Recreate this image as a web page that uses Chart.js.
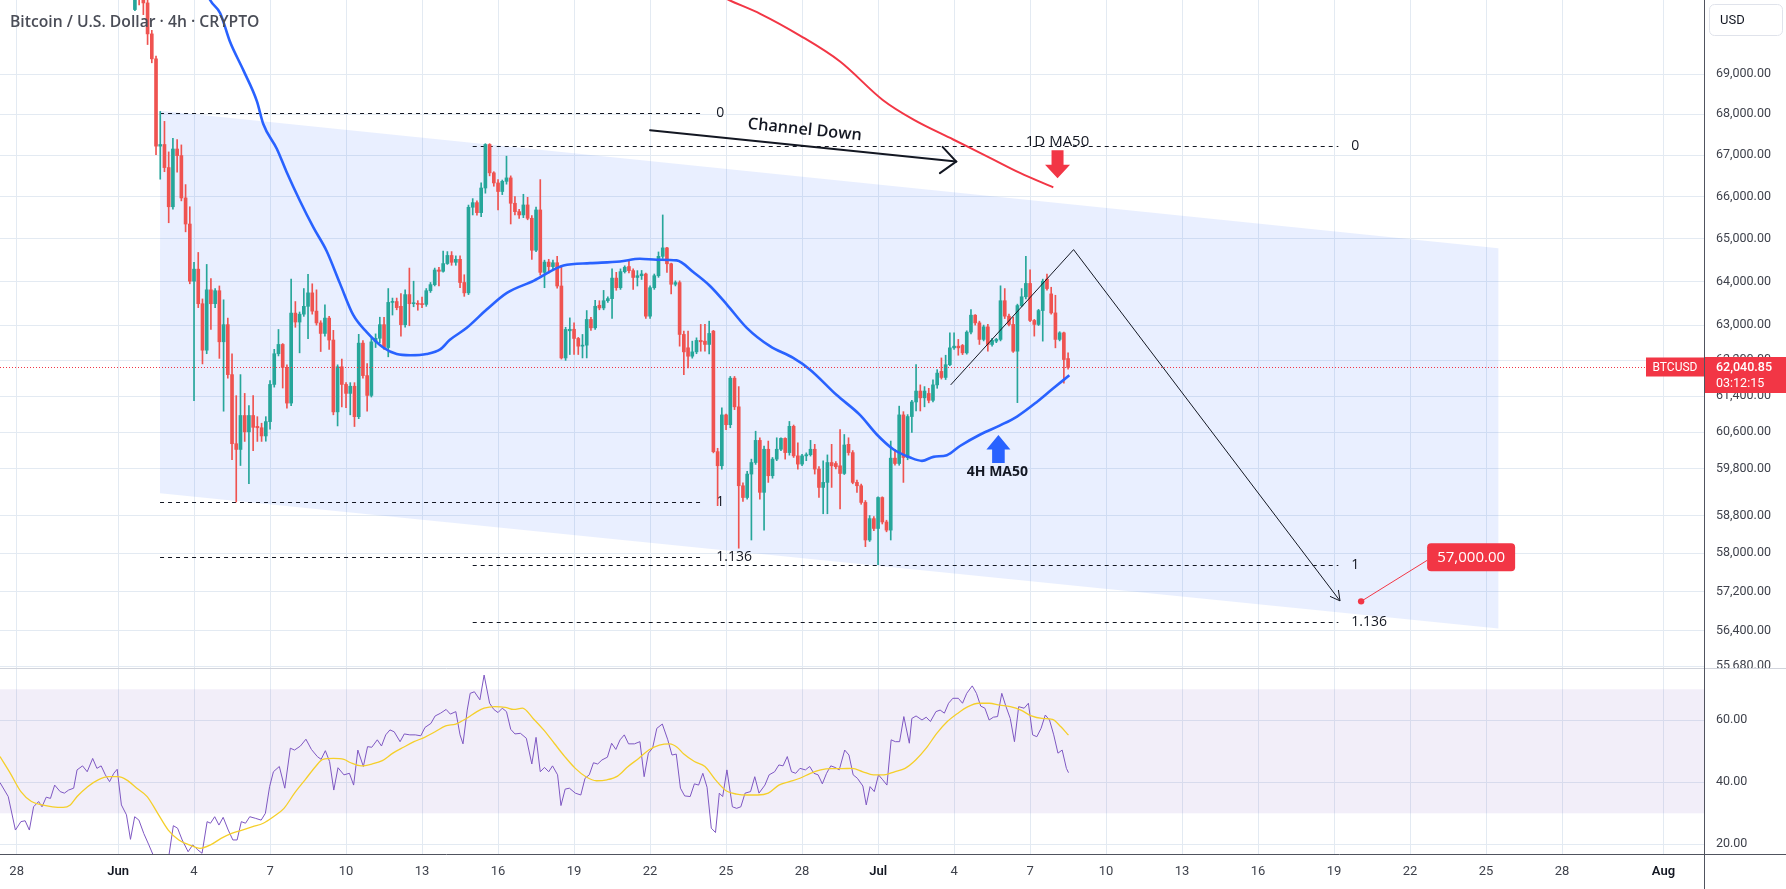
<!DOCTYPE html>
<html>
<head>
<meta charset="utf-8">
<title>Bitcoin / U.S. Dollar · 4h</title>
<script src="https://cdn.jsdelivr.net/npm/chart.js@4.4.1/dist/chart.umd.min.js"></script>
<style>
  html, body { margin: 0; padding: 0; background: #fff; }
  #wrap { position: relative; width: 1786px; height: 889px; overflow: hidden; }
  #priceCanvas { position: absolute; left: 0; top: 0; }
  #rsiCanvas { position: absolute; left: 0; top: 668px; }
</style>
</head>
<body>
<div id="wrap">
  <canvas id="priceCanvas" width="1786" height="668"></canvas>
  <canvas id="rsiCanvas" width="1786" height="221"></canvas>
</div>
<script>
// x values are 4h bar numbers counted from Jun 1 00:00 (6 bars = 1 day)
const titleText = 'Bitcoin / U.S. Dollar \u00b7 4h \u00b7 CRYPTO';
const dateTickK = [-24, 0, 18, 36, 54, 72, 90, 108, 126, 144, 162, 180, 198, 216, 234, 252, 270, 288, 306, 324, 342, 366];
const dateLabels = ['28', 'Jun', '4', '7', '10', '13', '16', '19', '22', '25', '28', 'Jul', '4', '7', '10', '13', '16', '19', '22', '25', '28', 'Aug'];
const monthLabels = ['Jun', 'Jul', 'Aug'];
const priceTicks = [69000, 68000, 67000, 66000, 65000, 64000, 63000, 62200, 61400, 60600, 59800, 58800, 58000, 57200, 56400, 55680];
const rsiTicks = [60, 40, 20];

// candles, first one is Jun 1 16:00
const firstCandle = 4;
const opens = [
  70630, 71200, 71000, 70800, 70010, 69380, 67220, 67260, 66700, 65760, // 4
  67150, 66990, 65970, 65350, 64010, 64290, 63490, 62430, 63810, 63490, // 14
  63790, 62620, 63010, 61880, 60350, 60225, 60970, 60610, 60970, 60730, // 24
  60700, 60520, 60835, 61660, 62350, 62560, 62040, 61245, 63275, 63070, // 34
  63250, 63430, 63740, 63320, 63050, 62810, 63160, 62660, 61050, 62056, // 44
  61660, 61460, 61620, 60944, 62590, 61858, 61415, 62618, 62700, 63010, // 54
  62490, 63520, 63540, 63430, 63010, 63700, 63490, 63500, 63490, 63475, // 64
  63790, 63930, 64270, 64240, 64420, 64610, 64450, 64520, 63980, 63740, // 74
  65748, 65858, 65620, 66208, 67260, 66573, 66330, 66124, 66368, 66451, // 84
  65843, 65644, 65565, 65803, 65486, 64732, 65684, 64216, 64455, 64350, // 94
  64440, 63899, 62255, 62870, 62905, 62696, 62521, 62544, 63129, 62938, // 104
  63454, 63393, 63559, 63607, 64082, 63859, 64232, 64351, 64256, 64097, // 114
  64137, 64177, 63204, 63859, 64137, 64589, 64787, 64415, 63939, 63978, // 124
  62787, 62484, 62294, 62392, 62651, 62635, 62560, 62862, 60177, 59870, // 134
  60983, 60767, 61800, 61162, 59438, 59185, 59690, 59940, 60423, 59296, // 144
  60229, 59654, 60014, 60229, 60466, 60156, 60731, 60085, 59906, 60085, // 154
  60110, 60229, 59798, 59402, 59510, 59940, 59919, 59869, 59703, 60336, // 164
  60156, 59510, 59438, 59080, 58281, 58734, 58525, 59185, 58663, 58490, // 174
  60035, 59919, 60983, 60049, 60947, 61270, 61512, 61362, 61459, 61306, // 184
  61650, 61952, 61816, 62103, 62483, 62521, 62537, 62369, 62840, 63227, // 194
  63051, 62674, 62960, 62560, 62635, 62674, 63559, 63204, 63015, 62407, // 204
  63447, 63650, 63958, 63106, 63015, 63333, 64058, 63716, 63279, 62674, // 214
  62824, 62241                                                          // 224
];
const highs = [
  71400, 71400, 71150, 70900, 70100, 69450, 68070, 67826, 67080, 67410,
  67380, 67250, 66290, 65760, 64450, 64680, 63600, 64400, 64070, 63840,
  63900, 63580, 63160, 62350, 61410, 61880, 61460, 61190, 61410, 60944,
  60800, 60944, 61745, 62450, 62900, 62580, 62100, 64060, 63540, 63300,
  63840, 64170, 63950, 63810, 63100, 63465, 63200, 62880, 62100, 62230,
  61700, 61700, 61700, 62790, 62650, 62125, 62704, 62800, 63180, 63180,
  63840, 63620, 63620, 63725, 63810, 64315, 64010, 63560, 63640, 63840,
  63980, 64315, 64330, 64710, 64700, 64700, 64600, 64600, 64160, 65800,
  65954, 65900, 66330, 67280, 67280, 66600, 66410, 66400, 66976, 66500,
  66000, 65700, 66058, 65985, 65550, 65750, 66410, 64500, 64520, 64500,
  64589, 64375, 62950, 63165, 63051, 62720, 62787, 63333, 63180, 63566,
  63559, 63797, 63650, 64296, 64216, 64296, 64368, 64511, 64300, 64256,
  64260, 64200, 63900, 64177, 64692, 65565, 64800, 64430, 64018, 64018,
  62862, 62862, 62635, 62710, 63015, 63015, 63090, 62880, 60250, 61141,
  61000, 61839, 61839, 61612, 59500, 59750, 60014, 60624, 60480, 60300,
  60408, 60050, 60480, 60480, 60480, 60839, 60760, 60371, 60120, 60150,
  60423, 60336, 59850, 59977, 60106, 60336, 59960, 60660, 60552, 60480,
  60200, 59560, 59474, 59120, 58800, 58780, 59200, 59200, 58700, 60408,
  60229, 61177, 61055, 60990, 61306, 62103, 61650, 61612, 61574, 61764,
  61991, 62255, 62316, 62824, 62824, 62674, 62560, 62870, 63356, 63240,
  63090, 63000, 63015, 62700, 62700, 63903, 63839, 63250, 63180, 63480,
  63839, 64589, 64273, 63130, 63360, 64058, 64177, 63870, 63685, 62850,
  62840, 62369
];
const lows = [
  70600, 70750, 70500, 69740, 69280, 67015, 66420, 66600, 65380, 65700,
  66590, 65900, 65165, 63950, 61300, 63400, 62120, 62350, 62900, 63400,
  62245, 61065, 61800, 60000, 59090, 59875, 60400, 59480, 60200, 60400,
  60400, 60405, 60670, 61600, 62300, 61580, 61130, 61190, 62950, 62370,
  63200, 62690, 63250, 63000, 62400, 62750, 62450, 60985, 60740, 61160,
  61145, 60985, 60727, 60900, 61800, 61065, 61380, 62490, 62600, 62447,
  62280, 63230, 63350, 62750, 62950, 62985, 63420, 63340, 63400, 63430,
  63750, 63900, 63900, 64220, 64400, 64380, 64380, 63860, 63660, 63700,
  65565, 65560, 65525, 66084, 66500, 66250, 65684, 66050, 66300, 65351,
  65565, 65480, 65500, 65450, 64518, 64700, 64150, 63859, 64200, 64300,
  63850, 62230, 62200, 62332, 62332, 62332, 62255, 62255, 62880, 62900,
  63350, 63350, 63520, 63151, 63800, 63820, 64200, 64200, 63821, 63899,
  64050, 63150, 63150, 63821, 64100, 64540, 64216, 63716, 63900, 62521,
  61877, 62028, 62250, 62350, 62407, 62407, 62346, 60150, 59011, 59798,
  60660, 60700, 61100, 58108, 59100, 59150, 58281, 59900, 59152, 58490,
  59510, 59600, 59980, 60200, 60014, 60100, 60050, 59798, 59870, 59980,
  60080, 59690, 59185, 58838, 58838, 59402, 59800, 58942, 59680, 60100,
  59480, 59296, 59040, 58141, 58250, 58480, 57760, 58620, 58454, 58281,
  59880, 59880, 59510, 60000, 60600, 61070, 61070, 61162, 61250, 61270,
  61574, 61780, 61770, 62080, 62450, 62316, 62330, 62340, 62800, 63000,
  62560, 62640, 62407, 62520, 62600, 62640, 63150, 62980, 62380, 61255,
  63420, 63600, 63080, 62749, 62990, 62635, 63800, 63250, 62483, 62640,
  61687, 62000
];
const closes = [
  71200, 71000, 70800, 70010, 69380, 67220, 67260, 66700, 65760, 67150,
  66990, 65970, 65350, 64010, 64290, 63490, 62430, 63810, 63490, 63790,
  62620, 63010, 61880, 60350, 60225, 60970, 60610, 60970, 60710, 60700,
  60520, 60835, 61660, 62350, 62560, 62040, 61245, 63275, 63070, 63250,
  63430, 63740, 63320, 63050, 62810, 63160, 62660, 61050, 62056, 61660,
  61460, 61620, 60944, 62590, 61858, 61415, 62618, 62700, 63010, 62490,
  63520, 63540, 63400, 63010, 63700, 63490, 63500, 63475, 63470, 63790,
  63930, 64270, 64240, 64420, 64610, 64450, 64520, 63980, 63740, 65748,
  65858, 65620, 66208, 67260, 66573, 66330, 66124, 66368, 66451, 65843,
  65644, 65565, 65803, 65486, 64732, 65684, 64216, 64455, 64350, 64440,
  63899, 62255, 62901, 62905, 62696, 62521, 62544, 63129, 62938, 63431,
  63393, 63559, 63607, 64082, 63859, 64232, 64335, 64256, 64097, 64137,
  64177, 63204, 63859, 64137, 64589, 64787, 64415, 63939, 63978, 62787,
  62392, 62294, 62392, 62651, 62620, 62560, 62810, 60177, 59870, 60983,
  60767, 61800, 61162, 59438, 59185, 59690, 59940, 60423, 59296, 60229,
  59654, 60014, 60229, 60466, 60156, 60731, 60085, 59906, 60085, 60110,
  60229, 59798, 59402, 59510, 59940, 59869, 59848, 59703, 60322, 60156,
  59510, 59438, 59080, 58281, 58734, 58525, 59185, 58663, 58490, 60035,
  59919, 60983, 60049, 60947, 61270, 61512, 61362, 61512, 61306, 61650,
  61914, 61816, 62103, 62483, 62521, 62483, 62369, 62840, 63227, 63051,
  62674, 62960, 62560, 62651, 62674, 63559, 63204, 63015, 62407, 63447,
  63650, 63958, 63106, 63015, 63333, 64010, 63839, 63279, 62674, 62824,
  62219, 62040.85
];
const lastPrice = 62040.85;
const countdown = '03:12:15';
const symbolTag = 'BTCUSD';

// 4H MA50 (blue)
const ma4hK = [19.5, 21.8, 24.2, 26.5, 29.7, 32.9, 34.4, 37.6, 39.9, 43.1, 46.3, 49.4, 52.6, 55.7, 58.9, 62.8, 66, 69.2,
  73.1, 76.3, 78.6, 82.6, 87.3, 92.1, 98.4, 105.5, 111.8, 118.9, 123.6, 127.6, 132.3, 136.3, 140.2, 144.2, 148.9,
  154.4, 159.9, 163.9, 170.2, 175.7, 179.7, 183.6, 187.6, 190.4, 193.1, 196.3, 199.4, 204.2, 208.9, 212.9, 217.6, 221.5, 225.3];
const ma4hV = [71500, 70875, 70537, 69817, 69091, 68320, 67761, 67156, 66600, 65898, 65263, 64715, 63948, 63231, 62840, 62492, 62344, 62317,
  62344, 62447, 62665, 62938, 63356, 63740, 64018, 64375, 64430, 64470, 64534, 64510, 64494, 64216, 63900, 63470, 62938,
  62521, 62255, 61991, 61423, 60983, 60552, 60229, 60049, 59977, 60063, 60100, 60300, 60552, 60753, 60947, 61270, 61574, 61864];
// 1D MA50 (red)
const ma1dK = [140, 144.7, 152.1, 161.5, 171, 181.1, 188.4, 197.8, 206.5, 213.6, 221.5];
const ma1dV = [71130, 70875, 70522, 69968, 69313, 68354, 67868, 67382, 66937, 66572, 66222];

// RSI 14 and its MA
const rsiK = [-27.95, -26.0, -24.3, -23.0, -22.0, -21.0, -20.0, -18.8, -18.0, -17.0,
  -16.0, -15.0, -13.7, -12.7, -11.7, -10.5, -9.7, -8.4, -7.3, -6.0,
  -5.0, -4.0, -3.0, -2.0, -1.0, -0.2, 0.8, 2.0, 2.95, 3.95,
  4.95, 6.1, 7.3, 8.3, 9.4, 10.6, 11.9, 13.1, 14.1, 15.2,
  16.6, 17.7, 18.9, 19.9, 21.1, 21.9, 22.9, 23.9, 24.9, 26.1,
  27.2, 28.2, 29.2, 30.2, 31.2, 32.5, 33.9, 34.9, 35.9, 36.8,
  38.2, 39.5, 40.8, 41.8, 43.2, 44.5, 45.8, 47.2, 48.1, 49.1,
  50.1, 51.1, 52.1, 53.5, 54.8, 55.8, 56.8, 58.1, 59.1, 60.1,
  61.4, 62.4, 63.4, 64.4, 65.4, 66.8, 67.8, 69.1, 70.4, 71.7,
  72.7, 74.1, 75.1, 76.4, 77.7, 78.7, 80.0, 81.0, 81.7, 82.7,
  83.4, 84.4, 85.7, 86.7, 88.0, 89.0, 90.0, 91.0, 92.0, 93.0,
  94.0, 95.3, 96.7, 98.0, 99.0, 100.0, 101.0, 102.0, 102.9, 104.1,
  104.9, 105.9, 106.9, 108.3, 109.6, 110.6, 111.6, 112.6, 113.6, 114.6,
  115.9, 116.9, 117.9, 118.9, 119.9, 120.9, 122.3, 123.6, 124.6, 125.6,
  126.6, 127.6, 128.9, 130.2, 131.2, 132.2, 133.2, 134.2, 135.5, 136.5,
  137.5, 138.5, 139.5, 140.5, 141.5, 142.4, 143.2, 144.2, 145.5, 146.5,
  147.5, 148.5, 149.8, 150.8, 151.8, 153.2, 154.2, 155.5, 156.5, 157.5,
  158.5, 159.5, 160.5, 161.5, 162.8, 163.8, 164.8, 165.8, 166.8, 167.8,
  168.8, 169.8, 170.8, 172.1, 173.1, 174.1, 175.1, 176.4, 177.2, 178.1,
  179.1, 180.1, 181.1, 182.1, 183.1, 184.1, 185.1, 186.1, 187.4, 188.0,
  189.0, 190.4, 191.4, 192.4, 193.7, 194.7, 195.7, 196.7, 197.7, 199.0,
  200.0, 201.0, 202.3, 203.3, 204.3, 205.3, 206.3, 207.3, 208.3, 209.3,
  210.3, 211.3, 212.3, 213.3, 214.6, 215.6, 216.6, 217.6, 218.6, 219.6,
  220.6, 221.6, 222.6, 223.6, 224.6, 225.1];
const rsiV = [39.9, 35.4, 24.6, 27.3, 27.6, 24.6, 32.1, 33.8, 32.1, 35.2,
  34.8, 39.1, 37.0, 36.5, 37.5, 38.1, 44.0, 45.3, 43.4, 47.7,
  44.5, 45.3, 42.4, 40.2, 42.9, 44.2, 32.7, 29.5, 21.6, 28.9,
  27.8, 23.5, 19.8, 16.6, 12.8, 11.7, 15.0, 26.0, 25.2, 21.4,
  17.6, 19.8, 18.2, 17.1, 27.3, 26.8, 28.9, 26.2, 28.7, 24.6,
  21.4, 21.4, 27.3, 26.8, 28.9, 28.4, 27.8, 30.0, 38.6, 43.4,
  45.1, 38.1, 51.0, 50.4, 51.7, 53.9, 50.6, 48.3, 47.4, 50.2,
  46.7, 37.5, 44.7, 42.4, 42.9, 39.1, 50.4, 45.1, 51.5, 51.3,
  53.7, 51.7, 55.3, 56.9, 56.3, 53.1, 55.6, 55.3, 55.3, 55.0,
  57.7, 59.0, 61.4, 62.3, 63.5, 62.0, 62.8, 55.3, 52.4, 63.3,
  68.7, 69.2, 66.6, 74.6, 65.5, 63.5, 62.5, 63.9, 62.8, 57.1,
  55.6, 55.8, 54.2, 45.9, 54.5, 43.4, 44.8, 43.4, 45.3, 42.4,
  32.5, 37.8, 38.1, 36.5, 35.9, 41.3, 42.4, 46.3, 45.9, 47.2,
  48.1, 52.6, 50.6, 53.7, 55.3, 52.4, 52.4, 53.1, 41.8, 49.4,
  51.0, 57.4, 58.8, 53.7, 48.8, 49.1, 38.1, 35.6, 35.4, 39.5,
  39.1, 42.9, 38.4, 25.2, 23.8, 36.5, 35.4, 44.0, 32.1, 31.6,
  32.1, 36.5, 37.0, 41.8, 36.5, 39.1, 42.4, 43.4, 45.6, 45.3,
  48.3, 43.4, 42.9, 44.5, 44.0, 45.1, 42.9, 42.4, 39.5, 42.9,
  45.3, 44.8, 44.0, 50.4, 48.8, 42.4, 41.3, 38.8, 32.7, 38.6,
  37.0, 42.4, 40.8, 39.1, 53.7, 53.1, 53.1, 61.2, 52.6, 60.6,
  61.4, 60.1, 61.0, 59.6, 62.8, 63.3, 62.3, 65.5, 67.1, 67.1,
  65.5, 68.7, 71.1, 68.7, 64.6, 63.9, 60.1, 61.0, 61.2, 68.7,
  64.4, 60.6, 53.1, 64.4, 63.9, 65.5, 55.3, 54.7, 57.4, 61.7,
  60.1, 55.3, 49.4, 50.4, 44.5, 43.1];
const rsiMaK = [-27.95, -25.5, -23.0, -20.5, -18.0, -15.5, -13.0, -11.3, -9.7, -7.2,
  -4.7, -2.2, 0, 2, 4.45, 6.9, 9.4, 11.9, 14.4, 16.9,
  19.4, 21.9, 24.4, 26.9, 29.4, 31.9, 34.4, 36.8, 39.3, 41.8,
  44.3, 46.8, 48.5, 51.0, 53.5, 55.1, 57.6, 60.1, 62.6, 65.1,
  67.6, 70.1, 72.6, 75.1, 77.6, 80.0, 82.5, 85.0, 86.7, 89.2,
  91.7, 93.7, 95.8, 98.3, 100.8, 103.3, 105.8, 108.3, 110.8, 113.3,
  115.8, 118.3, 120.8, 123.3, 125.7, 128.2, 130.7, 132.4, 134.0, 136.5,
  139.0, 141.5, 144.0, 146.5, 149.0, 151.5, 154.0, 156.5, 159.0, 161.5,
  164.0, 166.4, 168.9, 171.4, 173.9, 176.4, 178.9, 181.4, 183.9, 186.4,
  188.9, 191.4, 193.9, 196.4, 198.9, 201.3, 203.8, 206.3, 208.8, 211.3,
  213.8, 216.3, 218.8, 221.3, 223.3, 225.1];
const rsiMaV = [48.3, 42.9, 37.0, 33.8, 32.7, 32.1, 31.9, 32.7, 35.4, 38.6,
  40.8, 41.8, 41.8, 40.8, 38.1, 35.4, 30.0, 24.6, 21.4, 19.8,
  18.7, 19.8, 21.9, 23.5, 24.6, 25.7, 26.8, 28.9, 31.6, 36.5,
  40.8, 45.1, 47.4, 47.7, 47.4, 46.3, 45.3, 45.9, 47.0, 49.4,
  51.3, 53.1, 54.5, 56.3, 58.2, 58.8, 60.6, 62.8, 63.9, 64.4,
  64.2, 63.5, 63.9, 60.6, 56.9, 52.6, 48.3, 44.5, 41.8, 40.5,
  40.8, 42.0, 45.1, 47.7, 50.4, 52.0, 52.4, 51.3, 49.1, 46.7,
  45.1, 40.8, 37.3, 36.2, 35.9, 35.9, 36.5, 39.1, 40.2, 41.3,
  42.9, 44.0, 44.4, 44.4, 44.5, 43.4, 42.4, 42.4, 43.4, 44.5,
  47.2, 51.0, 55.8, 59.6, 62.3, 64.4, 65.5, 65.5, 64.9, 64.4,
  63.3, 61.4, 60.6, 60.3, 57.9, 55.2];
const rsiBand = [30, 70];

// drawings on the price pane
const channelK = [9.95, 326.9];
const channelTop = [68087, 64780];
const channelBottom = [59277, 56440];
const fibLevels = ['0', '1', '1.136'];
const fib1K = [9.95, 138.6];
const fib1P = [68030, 59088, 57914];
const fib2K = [84, 289];
const fib2P = [67220, 57760, 56580];
const chanArrowK = [126, 198.5];
const chanArrowP = [67610, 66845];
const chanText = 'Channel Down';
const projK = [197.2, 226.3, 289.4];
const projP = [61650, 64747, 57010];
const targetK = 294.4;
const targetP = 57000;
const ma1dMark = { k: 222.5, p: 66440, text: '1D MA50' };
const ma4hMark = { k: 208.5, p: 60541, text: '4H MA50' };

// view range
const X_MIN = -27.95, X_MAX = 375.6;
const P_MIN = 55640, P_MAX = 70875;
const R_MIN = 16.87, R_MAX = 76.87;

const UP = '#26a69a', DOWN = '#ef5350', RED = '#f23645', INK = '#131722';
const GRID = '#e3eaf2', AXIS = '#50535e', AXIS_TEXT = '#3f424c';
const AXIS_FONT = 'Roboto, "Noto Sans", sans-serif';
const TEXT_FONT = '"Open Sans", "Noto Sans", sans-serif';
const AXIS_W = 82;

const candleX = opens.map((_, i) => firstCandle + i);
const wickData = candleX.map((k, i) => ({ x: k, y: [lows[i], highs[i]] }));
const bodyData = candleX.map((k, i) => ({ x: k, y: [opens[i], closes[i]] }));
const candleColors = closes.map((c, i) => (c >= opens[i] ? UP : DOWN));
const fmt = v => v.toLocaleString('en-US', { minimumFractionDigits: 2, maximumFractionDigits: 2 });

function arrowHead(ctx, tx, ty, ang, len, spread) {
  ctx.beginPath();
  ctx.moveTo(tx - len * Math.cos(ang - spread), ty - len * Math.sin(ang - spread));
  ctx.lineTo(tx, ty);
  ctx.lineTo(tx - len * Math.cos(ang + spread), ty - len * Math.sin(ang + spread));
  ctx.stroke();
}

function rrect(ctx, x, y, w, h, r) {
  ctx.beginPath();
  if (ctx.roundRect) ctx.roundRect(x, y, w, h, r);
  else ctx.rect(x, y, w, h);
}

// no extra room around the plot for the tick labels
function noPad(width, height) {
  return s => {
    if (width !== undefined) s.width = width;
    if (height !== undefined) s.height = height;
    s.paddingTop = 0; s.paddingBottom = 0; s.paddingLeft = 0; s.paddingRight = 0;
  };
}

const priceOverlay = {
  id: 'priceOverlay',
  beforeDatasetsDraw(chart) {
    const { ctx, chartArea: a, scales: { x, y } } = chart;
    ctx.save();
    ctx.beginPath();
    ctx.rect(a.left, a.top, a.width, a.height);
    ctx.clip();
    // channel
    ctx.fillStyle = 'rgba(41,98,255,0.1)';
    ctx.beginPath();
    ctx.moveTo(x.getPixelForValue(channelK[0]), y.getPixelForValue(channelTop[0]));
    ctx.lineTo(x.getPixelForValue(channelK[1]), y.getPixelForValue(channelTop[1]));
    ctx.lineTo(x.getPixelForValue(channelK[1]), y.getPixelForValue(channelBottom[1]));
    ctx.lineTo(x.getPixelForValue(channelK[0]), y.getPixelForValue(channelBottom[0]));
    ctx.closePath();
    ctx.fill();
    // fib levels
    ctx.strokeStyle = INK;
    ctx.lineWidth = 1;
    ctx.setLineDash([4, 4]);
    ctx.font = '14px ' + TEXT_FONT;
    ctx.fillStyle = INK;
    ctx.textBaseline = 'middle';
    [[fib1K, fib1P], [fib2K, fib2P]].forEach(([ks, ps]) => {
      const x0 = x.getPixelForValue(ks[0]), x1 = x.getPixelForValue(ks[1]);
      ps.forEach((p, i) => {
        const yy = Math.round(y.getPixelForValue(p)) + 0.5;
        ctx.beginPath();
        ctx.moveTo(x0, yy);
        ctx.lineTo(x1, yy);
        ctx.stroke();
        ctx.fillText(fibLevels[i], x1 + 13, yy);
      });
    });
    ctx.restore();
  },
  afterDatasetsDraw(chart) {
    const { ctx, chartArea: a, scales: { x, y } } = chart;
    ctx.save();
    // last price line
    const py = Math.round(y.getPixelForValue(lastPrice)) + 0.5;
    ctx.strokeStyle = RED;
    ctx.lineWidth = 1;
    ctx.setLineDash([1, 2]);
    ctx.beginPath();
    ctx.moveTo(a.left, py);
    ctx.lineTo(a.right, py);
    ctx.stroke();
    ctx.setLineDash([]);

    // channel down arrow
    const sx = x.getPixelForValue(chanArrowK[0]), sy = y.getPixelForValue(chanArrowP[0]);
    const ex = x.getPixelForValue(chanArrowK[1]), ey = y.getPixelForValue(chanArrowP[1]);
    const ang = Math.atan2(ey - sy, ex - sx);
    ctx.strokeStyle = INK;
    ctx.lineWidth = 2;
    ctx.lineCap = 'round';
    ctx.beginPath();
    ctx.moveTo(sx, sy);
    ctx.lineTo(ex, ey);
    ctx.stroke();
    arrowHead(ctx, ex, ey, ang, 20, 0.72);
    ctx.save();
    ctx.translate((sx + ex) / 2 + 16 * Math.sin(ang), (sy + ey) / 2 - 16 * Math.cos(ang));
    ctx.rotate(ang);
    ctx.font = '600 16.3px ' + TEXT_FONT;
    ctx.fillStyle = INK;
    ctx.textAlign = 'center';
    ctx.textBaseline = 'middle';
    ctx.fillText(chanText, 0, 0);
    ctx.restore();

    // projection path
    ctx.lineWidth = 1;
    ctx.lineCap = 'butt';
    ctx.beginPath();
    projK.forEach((k, i) => {
      const px = x.getPixelForValue(k), pyy = y.getPixelForValue(projP[i]);
      if (i) ctx.lineTo(px, pyy); else ctx.moveTo(px, pyy);
    });
    ctx.stroke();
    const n = projK.length - 1;
    const tx1 = x.getPixelForValue(projK[n]), ty1 = y.getPixelForValue(projP[n]);
    const tx0 = x.getPixelForValue(projK[n - 1]), ty0 = y.getPixelForValue(projP[n - 1]);
    arrowHead(ctx, tx1, ty1, Math.atan2(ty1 - ty0, tx1 - tx0), 11, 0.5);

    // target
    const gx = x.getPixelForValue(targetK), gy = y.getPixelForValue(targetP);
    ctx.strokeStyle = RED;
    ctx.beginPath();
    ctx.moveTo(gx, gy);
    ctx.lineTo(gx + 66, gy - 41);
    ctx.stroke();
    ctx.fillStyle = RED;
    ctx.beginPath();
    ctx.arc(gx, gy, 3.2, 0, Math.PI * 2);
    ctx.fill();
    rrect(ctx, gx + 66, gy - 58, 88, 28, 4);
    ctx.fill();
    ctx.fillStyle = '#fff';
    ctx.font = '15px ' + TEXT_FONT;
    ctx.textAlign = 'center';
    ctx.textBaseline = 'middle';
    ctx.fillText(fmt(targetP), gx + 110, gy - 43.5);

    // 1D MA50 marker (down arrow)
    const rx = x.getPixelForValue(ma1dMark.k), ry = y.getPixelForValue(ma1dMark.p);
    ctx.fillStyle = RED;
    ctx.beginPath();
    ctx.moveTo(rx, ry);
    ctx.lineTo(rx - 12.5, ry - 13.5);
    ctx.lineTo(rx - 6, ry - 13.5);
    ctx.lineTo(rx - 6, ry - 28);
    ctx.lineTo(rx + 6, ry - 28);
    ctx.lineTo(rx + 6, ry - 13.5);
    ctx.lineTo(rx + 12.5, ry - 13.5);
    ctx.closePath();
    ctx.fill();
    ctx.fillStyle = INK;
    ctx.font = '15px ' + TEXT_FONT;
    ctx.fillText(ma1dMark.text, rx, ry - 37);

    // 4H MA50 marker (up arrow)
    const bx = x.getPixelForValue(ma4hMark.k), by = y.getPixelForValue(ma4hMark.p);
    ctx.fillStyle = '#2962ff';
    ctx.beginPath();
    ctx.moveTo(bx, by);
    ctx.lineTo(bx + 12, by + 14.6);
    ctx.lineTo(bx + 6.3, by + 14.6);
    ctx.lineTo(bx + 6.3, by + 28);
    ctx.lineTo(bx - 6.3, by + 28);
    ctx.lineTo(bx - 6.3, by + 14.6);
    ctx.lineTo(bx - 12, by + 14.6);
    ctx.closePath();
    ctx.fill();
    ctx.fillStyle = INK;
    ctx.font = 'bold 14px ' + TEXT_FONT;
    ctx.fillText(ma4hMark.text, bx - 1, by + 37.5);
    ctx.restore();
  },
  afterDraw(chart) {
    const { ctx, chartArea: a, scales: { y } } = chart;
    const W = chart.width;
    ctx.save();
    // title
    ctx.font = '600 15.7px ' + TEXT_FONT;
    ctx.fillStyle = '#4a4d57';
    ctx.textBaseline = 'alphabetic';
    ctx.fillText(titleText, 10, 26.5);
    // price axis line
    ctx.strokeStyle = AXIS;
    ctx.lineWidth = 1;
    ctx.beginPath();
    ctx.moveTo(a.right + 0.5, 0);
    ctx.lineTo(a.right + 0.5, chart.height);
    ctx.stroke();
    // currency box
    ctx.fillStyle = '#fff';
    ctx.strokeStyle = '#e0e3eb';
    rrect(ctx, a.right + 5.5, 4.5, 73, 31, 5);
    ctx.fill();
    ctx.stroke();
    ctx.fillStyle = INK;
    ctx.font = '13px ' + AXIS_FONT;
    ctx.textBaseline = 'middle';
    ctx.fillText('USD', a.right + 16, 20.5);
    // last price tags
    const py = Math.round(y.getPixelForValue(lastPrice));
    ctx.fillStyle = RED;
    ctx.fillRect(a.right - 58, py - 9.5, 58, 19);
    ctx.fillRect(a.right + 1, py - 10, W - a.right - 1, 36);
    ctx.fillStyle = '#fff';
    ctx.font = '12px ' + AXIS_FONT;
    ctx.textAlign = 'center';
    ctx.fillText(symbolTag, a.right - 29, py + 0.5);
    ctx.textAlign = 'left';
    ctx.font = '500 12.5px ' + AXIS_FONT;
    ctx.fillText(fmt(lastPrice), a.right + 12, py + 0.5);
    ctx.font = '12.5px ' + AXIS_FONT;
    ctx.fillText(countdown, a.right + 12, py + 17);
    ctx.restore();
  }
};

const rsiOverlay = {
  id: 'rsiOverlay',
  beforeDatasetsDraw(chart) {
    const { ctx, chartArea: a, scales: { y } } = chart;
    const y0 = y.getPixelForValue(rsiBand[1]), y1 = y.getPixelForValue(rsiBand[0]);
    ctx.save();
    ctx.fillStyle = 'rgba(126,87,194,0.1)';
    ctx.fillRect(a.left, y0, a.width, y1 - y0);
    ctx.restore();
  },
  afterDraw(chart) {
    const { ctx, chartArea: a } = chart;
    ctx.save();
    ctx.lineWidth = 1;
    ctx.strokeStyle = '#d1d4dc';
    ctx.beginPath();
    ctx.moveTo(0, 0.5);
    ctx.lineTo(chart.width, 0.5);
    ctx.stroke();
    ctx.strokeStyle = AXIS;
    ctx.beginPath();
    ctx.moveTo(a.right + 0.5, 0);
    ctx.lineTo(a.right + 0.5, chart.height);
    ctx.moveTo(0, a.bottom + 0.5);
    ctx.lineTo(chart.width, a.bottom + 0.5);
    ctx.stroke();
    ctx.restore();
  }
};

const setDateTicks = s => { s.ticks = dateTickK.map(v => ({ value: v })); };

new Chart(document.getElementById('priceCanvas'), {
  type: 'bar',
  data: {
    datasets: [
      { type: 'line', data: ma4hK.map((k, i) => ({ x: k, y: ma4hV[i] })), borderColor: '#2962ff', borderWidth: 2.6,
        pointRadius: 0, cubicInterpolationMode: 'monotone', order: 0 },
      { type: 'line', data: ma1dK.map((k, i) => ({ x: k, y: ma1dV[i] })), borderColor: RED, borderWidth: 2,
        pointRadius: 0, cubicInterpolationMode: 'monotone', order: 1 },
      { type: 'bar', data: bodyData, backgroundColor: candleColors, barThickness: 3, grouped: false,
        minBarLength: 1, order: 2 },
      { type: 'bar', data: wickData, backgroundColor: candleColors, barThickness: 1, grouped: false, order: 3 }
    ]
  },
  options: {
    responsive: false,
    animation: false,
    devicePixelRatio: 1,
    layout: { padding: 0, autoPadding: false },
    plugins: { legend: { display: false }, tooltip: { enabled: false } },
    scales: {
      x: {
        type: 'linear', min: X_MIN, max: X_MAX, offset: false,
        afterBuildTicks: setDateTicks,
        ticks: { display: false },
        grid: { color: GRID, drawTicks: false, offset: false },
        border: { display: false },
        afterFit: noPad(undefined, 0)
      },
      y: {
        type: 'logarithmic', position: 'right', min: P_MIN, max: P_MAX,
        afterBuildTicks: s => { s.ticks = priceTicks.map(v => ({ value: v })); },
        ticks: { callback: v => fmt(v), color: AXIS_TEXT, font: { family: AXIS_FONT, size: 12.5 }, padding: 12, autoSkip: false },
        grid: { color: GRID, drawTicks: false },
        border: { display: false },
        afterFit: noPad(AXIS_W)
      }
    }
  },
  plugins: [priceOverlay]
});

new Chart(document.getElementById('rsiCanvas'), {
  type: 'line',
  data: {
    datasets: [
      { data: rsiMaK.map((k, i) => ({ x: k, y: rsiMaV[i] })), borderColor: '#f5cf2a', borderWidth: 1.3,
        pointRadius: 0, cubicInterpolationMode: 'monotone', order: 0 },
      { data: rsiK.map((k, i) => ({ x: k, y: rsiV[i] })), borderColor: '#7e57c2', borderWidth: 1,
        pointRadius: 0, tension: 0, order: 1 }
    ]
  },
  options: {
    responsive: false,
    animation: false,
    devicePixelRatio: 1,
    layout: { padding: 0, autoPadding: false },
    plugins: { legend: { display: false }, tooltip: { enabled: false } },
    scales: {
      x: {
        type: 'linear', min: X_MIN, max: X_MAX, offset: false,
        afterBuildTicks: setDateTicks,
        ticks: {
          callback: (v, i) => dateLabels[i],
          color: c => (monthLabels.includes(dateLabels[c.index]) ? INK : AXIS_TEXT),
          font: c => ({ family: AXIS_FONT, size: 13, weight: monthLabels.includes(dateLabels[c.index]) ? '600' : '400' }),
          padding: 10, autoSkip: false, maxRotation: 0, minRotation: 0
        },
        grid: { color: GRID, drawTicks: false, offset: false },
        border: { display: false },
        afterFit: noPad(undefined, 35)
      },
      y: {
        type: 'linear', position: 'right', min: R_MIN, max: R_MAX,
        afterBuildTicks: s => { s.ticks = rsiTicks.map(v => ({ value: v })); },
        ticks: { callback: v => v.toFixed(2), color: AXIS_TEXT, font: { family: AXIS_FONT, size: 12.5 }, padding: 12, autoSkip: false },
        grid: { color: GRID, drawTicks: false },
        border: { display: false },
        afterFit: noPad(AXIS_W)
      }
    }
  },
  plugins: [rsiOverlay]
});
</script>
</body>
</html>
